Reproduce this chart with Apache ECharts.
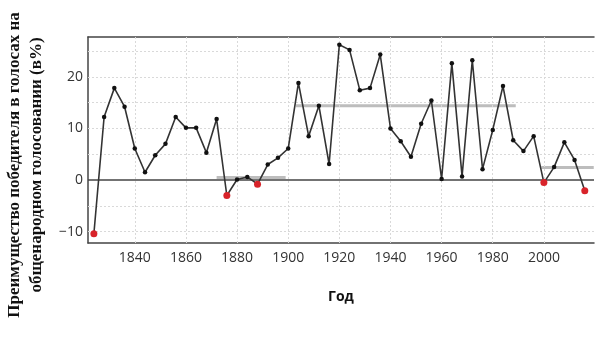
<!DOCTYPE html>
<html><head><meta charset="utf-8">
<script src="https://cdn.jsdelivr.net/npm/echarts@6/dist/echarts.min.js"></script>
<style>html,body{margin:0;padding:0;background:#fff}#c{width:606px;height:339px}</style>
</head><body><div id="c"></div>
<script>
const years = [1824,1828,1832,1836,1840,1844,1848,1852,1856,1860,1864,1868,1872,1876,1880,1884,1888,1892,1896,1900,1904,1908,1912,1916,1920,1924,1928,1932,1936,1940,1944,1948,1952,1956,1960,1964,1968,1972,1976,1980,1984,1988,1992,1996,2000,2004,2008,2012,2016];
const margins = [-10.4,12.2,17.8,14.2,6.1,1.5,4.8,7.0,12.2,10.1,10.1,5.3,11.8,-3.0,0.1,0.6,-0.8,3.0,4.3,6.1,18.8,8.5,14.4,3.1,26.2,25.2,17.4,17.8,24.3,10.0,7.5,4.5,10.9,15.4,0.2,22.6,0.7,23.2,2.1,9.7,18.2,7.7,5.6,8.5,-0.5,2.5,7.3,3.9,-2.1];
const eraStart = [1872, 1903, 1999];
const eraEnd = [1899, 1989, 2019.5];
const eraMean = [0.5, 14.4, 2.4];
const xTickLabels = [1840,1860,1880,1900,1920,1940,1960,1980,2000];
const yTickLabels = [-10,0,10,20];
const xGrid = [1840,1860,1880,1900,1920,1940,1960,1980,2000];
const yGrid = [-10,-5,5,10,15,20,25];
const yTitle = ['Преимущество победителя в голосах на','общенародном голосовании (в%)'];
const xTitle = 'Год';

const chart = echarts.init(document.getElementById('c'));
const X0 = 1821.7, X1 = 2019.6, Y0 = -12.2, Y1 = 27.7;
const lblFont = {fontFamily:'Open Sans', fontSize:14, color:'#333'};
const series = [];
series.push({
  type:'line', data:[], silent:true, z:1,
  markLine:{silent:true, symbol:'none', label:{show:false},
    lineStyle:{color:'#d9d9d9', type:[2,2], width:1},
    data: xGrid.map(v=>({xAxis:v})).concat(yGrid.map(v=>({yAxis:v})))}
});
series.push({
  type:'line', data:[], silent:true, z:2,
  markLine:{silent:true, symbol:'none', label:{show:false},
    lineStyle:{color:'#444', type:'solid', width:1.5},
    data:[{yAxis:0}]}
});
eraStart.forEach((s,i)=>{
  series.push({type:'line', silent:true, z:3, symbol:'none',
    lineStyle:{color:'#bdbdbd', width:3},
    data:[[s,eraMean[i]],[eraEnd[i],eraMean[i]]]});
});
series.push({
  type:'line', z:5, data: years.map((y,i)=>[y,margins[i]]),
  lineStyle:{color:'#333', width:1.6},
  symbol:'circle',
  symbolSize:(v)=> v[1] < 0 ? 7 : 4.5,
  itemStyle:{color:(p)=> p.value[1] < 0 ? '#d8232a' : '#111'},
  showAllSymbol:true
});

chart.setOption({
  animation:false,
  grid:{left:88, right:12, top:37, bottom:96},
  xAxis:[{
    type:'value', min:X0, max:X1, position:'bottom',
    axisLine:{show:true, onZero:false, lineStyle:{color:'#444', width:1.5}},
    axisTick:{show:false},
    splitLine:{show:false},
    axisLabel:Object.assign({customValues:xTickLabels, margin:8, formatter:(v)=>String(v)}, lblFont),
    name:xTitle, nameLocation:'middle', nameGap:47,
    nameTextStyle:{fontFamily:'Open Sans', fontSize:14, fontWeight:'bold', color:'#111'}
  },{
    type:'value', min:X0, max:X1, position:'top',
    axisLine:{show:true, onZero:false, lineStyle:{color:'#444', width:1.5}},
    axisTick:{show:false}, axisLabel:{show:false}, splitLine:{show:false}
  }],
  yAxis:{
    type:'value', min:Y0, max:Y1,
    axisLine:{show:true, onZero:false, lineStyle:{color:'#444', width:1.5}},
    axisTick:{show:false},
    splitLine:{show:false},
    axisLabel:Object.assign({customValues:yTickLabels, margin:5, formatter:(v)=> v<0 ? '\u2212'+Math.abs(v) : String(v)}, lblFont)
  },
  graphic:[{
    type:'text', x:26, y:165, rotation:Math.PI/2,
    style:{text:yTitle.join('\n'), font:'bold 17px "Liberation Serif"', fill:'#111',
      align:'center', verticalAlign:'middle', lineHeight:22}
  }],
  series: series
});
</script></body></html>
